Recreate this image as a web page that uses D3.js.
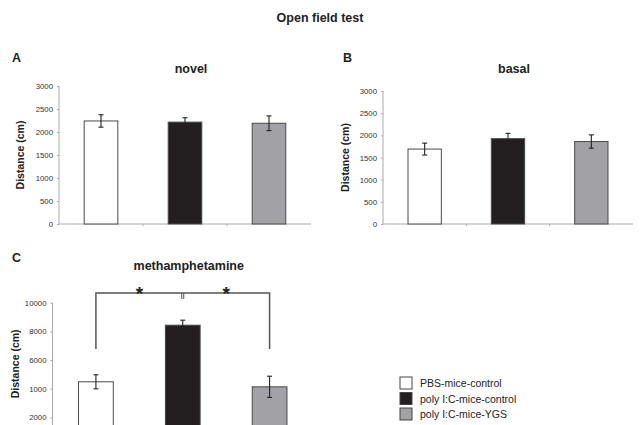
<!DOCTYPE html>
<html>
<head>
<meta charset="utf-8">
<script src="https://cdn.jsdelivr.net/npm/d3@7"></script>
<style>
  body { margin: 0; background: #fff; }
  text { font-family: "Liberation Sans", Arial, sans-serif; }
</style>
</head>
<body>
<div id="chart"></div>
<script>
const groups = ['PBS-mice-control', 'poly I:C-mice-control', 'poly I:C-mice-YGS'];
const fills = ['#ffffff', '#231f20', '#a2a2a6'];

const novelMeans = [2240, 2215, 2190];
const novelErr = [135, 95, 160];
const basalMeans = [1690, 1925, 1860];
const basalErr = [135, 120, 150];
const methMeans = [4480, 8430, 4130];
const methErr = [490, 350, 740];

const smallTicks = [0, 500, 1000, 1500, 2000, 2500, 3000];
const methTicks = [2000, 4000, 6000, 8000, 10000];
const methTickLabels = ['2000', '1000', '6000', '8000', '10000'];

const width = 641, height = 425;
const svg = d3.select('#chart').append('svg')
  .attr('width', width).attr('height', height);

svg.append('text')
  .attr('x', 320).attr('y', 22)
  .attr('text-anchor', 'middle').attr('font-size', 12.5).attr('font-weight', 'bold')
  .attr('fill', '#222').text('Open field test');

function drawPanel({ letter, letterX, letterY, title, titleY, x0, x1, yZero, yTop, maxV,
  ticks, tickLabels, means, errs, labelX }) {
  const g = svg.append('g');
  const x = d3.scaleBand().domain(groups).range([x0, x1]).paddingInner(0.6).paddingOuter(0.3);
  const y = d3.scaleLinear().domain([0, maxV]).range([yZero, yTop]);

  g.append('text').attr('x', letterX).attr('y', letterY)
    .attr('font-size', 12.5).attr('font-weight', 'bold').attr('fill', '#222').text(letter);
  g.append('text').attr('x', (x0 + x1) / 2 + 6).attr('y', titleY)
    .attr('text-anchor', 'middle').attr('font-size', 12.5).attr('font-weight', 'bold')
    .attr('fill', '#222').text(title);

  // y axis
  const yAxis = d3.axisLeft(y).tickValues(ticks).tickSize(2).tickPadding(4)
    .tickFormat((d, i) => tickLabels ? tickLabels[i] : d);
  const ya = g.append('g').attr('transform', `translate(${x0},0)`).call(yAxis);
  ya.select('.domain').attr('stroke', '#aaa')
    .attr('d', `M0,${Math.min(yZero, height)}V${y(maxV)}`);
  ya.selectAll('.tick line').attr('stroke', '#aaa');
  ya.selectAll('.tick text').attr('font-size', 7.8).attr('fill', '#333')
    .style('font-family', '"Liberation Sans", Arial, sans-serif');

  // x baseline with band separators
  if (yZero < height) {
    g.append('line').attr('x1', x0).attr('x2', x1).attr('y1', yZero).attr('y2', yZero)
      .attr('stroke', '#aaa');
    [1, 2].forEach(i => {
      const sx = x0 + (x1 - x0) * i / 3;
      g.append('line').attr('x1', sx).attr('x2', sx).attr('y1', yZero).attr('y2', yZero + 2)
        .attr('stroke', '#aaa');
    });
  }

  g.append('text')
    .attr('transform', `translate(${labelX},${(y(maxV) + Math.min(yZero, height)) / 2}) rotate(-90)`)
    .attr('text-anchor', 'middle').attr('font-size', 10.5).attr('font-weight', 'bold')
    .attr('fill', '#222').text('Distance (cm)');

  // bars
  g.selectAll('rect.bar').data(groups).join('rect')
    .attr('class', 'bar')
    .attr('x', d => x(d)).attr('width', x.bandwidth())
    .attr('y', (d, i) => y(means[i]))
    .attr('height', (d, i) => y(0) - y(means[i]))
    .attr('fill', (d, i) => fills[i])
    .attr('stroke', '#4a4a4a').attr('stroke-width', 1);

  // error bars
  const cap = 2.5;
  groups.forEach((d, i) => {
    const cx = x(d) + x.bandwidth() / 2;
    const hi = y(means[i] + errs[i]), lo = y(means[i] - errs[i]);
    const eg = g.append('g').attr('stroke', '#222').attr('stroke-width', 1.1);
    eg.append('line').attr('x1', cx).attr('x2', cx).attr('y1', hi).attr('y2', lo);
    eg.append('line').attr('x1', cx - cap).attr('x2', cx + cap).attr('y1', hi).attr('y2', hi);
    eg.append('line').attr('x1', cx - cap).attr('x2', cx + cap).attr('y1', lo).attr('y2', lo);
  });
  return { x, y };
}

drawPanel({ letter: 'A', letterX: 12, letterY: 62, title: 'novel', titleY: 73,
  x0: 59, x1: 311, yZero: 224, yTop: 86, maxV: 3000, ticks: smallTicks,
  means: novelMeans, errs: novelErr, labelX: 24 });

drawPanel({ letter: 'B', letterX: 343, letterY: 62, title: 'basal', titleY: 73,
  x0: 383, x1: 633, yZero: 224, yTop: 91, maxV: 3000, ticks: smallTicks,
  means: basalMeans, errs: basalErr, labelX: 349 });

const pc = drawPanel({ letter: 'C', letterX: 12, letterY: 262, title: 'methamphetamine', titleY: 270,
  x0: 52.5, x1: 313, yZero: 446, yTop: 302.7, maxV: 10000, ticks: methTicks,
  tickLabels: methTickLabels, means: methMeans, errs: methErr, labelX: 19 });

// significance brackets
const bx = d => pc.x(d) + pc.x.bandwidth() / 2;
const brY = 293, brBottom = 349;
const br = svg.append('g').attr('stroke', '#555').attr('stroke-width', 1.5).attr('fill', 'none');
br.append('path').attr('d', `M${bx(groups[0])},${brBottom}V${brY}H${bx(groups[2])}V${brBottom}`);
[-1, 1].forEach(o => {
  br.append('line').attr('x1', bx(groups[1]) + o).attr('x2', bx(groups[1]) + o)
    .attr('y1', brY).attr('y2', brY + 6).attr('stroke-width', 1);
});
[(bx(groups[0]) + bx(groups[1])) / 2, (bx(groups[1]) + bx(groups[2])) / 2].forEach(sx => {
  svg.append('text').attr('x', sx).attr('y', brY + 7).attr('text-anchor', 'middle')
    .attr('font-size', 19).attr('font-weight', 'bold').attr('fill', '#222').text('*');
});

// legend
const legend = svg.append('g').attr('transform', 'translate(400,377)');
groups.forEach((name, i) => {
  const row = legend.append('g').attr('transform', `translate(0,${i * 15.5})`);
  row.append('rect').attr('width', 12).attr('height', 12)
    .attr('fill', fills[i]).attr('stroke', '#444').attr('stroke-width', 1);
  row.append('text').attr('x', 20).attr('y', 10).attr('font-size', 10.5)
    .attr('fill', '#222').text(name);
});
</script>
</body>
</html>
